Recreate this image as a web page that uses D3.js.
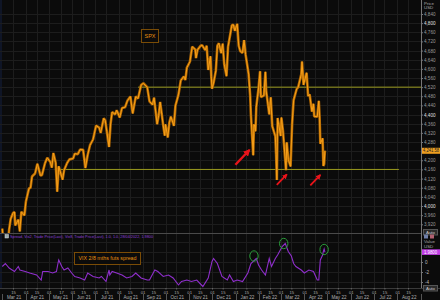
<!DOCTYPE html>
<html>
<head>
<meta charset="utf-8">
<script src="https://cdn.jsdelivr.net/npm/d3@7/dist/d3.min.js"></script>
<style>
  html, body { margin: 0; padding: 0; background: #0b0b0b; }
  svg { display: block; font-family: "Liberation Sans", Arial, sans-serif; }
</style>
</head>
<body>
<div id="chart"></div>
<script>
// SPX (daily-ish, incl. a few intraday lows)
const spx = [
  ["2021-03-01",3901],["2021-03-03",3820],["2021-03-04",3768],["2021-03-05",3842],["2021-03-08",3821],["2021-03-10",3898],
  ["2021-03-12",3943],["2021-03-15",3969],["2021-03-17",3974],["2021-03-18",3915],["2021-03-22",3940],["2021-03-24",3889],
  ["2021-03-26",3975],["2021-03-30",3959],["2021-04-01",4020],["2021-04-05",4077],["2021-04-07",4080],["2021-04-09",4129],
  ["2021-04-13",4142],["2021-04-16",4185],["2021-04-20",4134],["2021-04-22",4135],["2021-04-26",4187],["2021-04-29",4211],
  ["2021-05-03",4192],["2021-05-05",4168],["2021-05-07",4232],["2021-05-10",4189],["2021-05-12",4063],["2021-05-14",4174],
  ["2021-05-19",4115],["2021-05-21",4156],["2021-05-25",4188],["2021-05-28",4204],["2021-06-02",4208],["2021-06-04",4229],
  ["2021-06-08",4227],["2021-06-11",4247],["2021-06-15",4246],["2021-06-18",4166],["2021-06-21",4224],["2021-06-24",4266],
  ["2021-06-28",4291],["2021-07-02",4352],["2021-07-06",4343],["2021-07-08",4320],["2021-07-12",4384],["2021-07-14",4374],
  ["2021-07-16",4327],["2021-07-19",4258],["2021-07-21",4359],["2021-07-23",4411],["2021-07-27",4401],["2021-07-29",4419],
  ["2021-08-02",4387],["2021-08-05",4429],["2021-08-09",4432],["2021-08-12",4460],["2021-08-16",4479],["2021-08-19",4405],
  ["2021-08-23",4479],["2021-08-26",4470],["2021-08-30",4529],["2021-09-02",4537],["2021-09-07",4520],["2021-09-10",4458],
  ["2021-09-14",4443],["2021-09-16",4474],["2021-09-20",4358],["2021-09-22",4395],["2021-09-24",4455],["2021-09-28",4353],
  ["2021-09-30",4308],["2021-10-01",4357],["2021-10-04",4300],["2021-10-06",4364],["2021-10-08",4391],["2021-10-12",4351],
  ["2021-10-14",4438],["2021-10-18",4487],["2021-10-21",4549],["2021-10-25",4567],["2021-10-27",4551],["2021-10-29",4605],
  ["2021-11-02",4631],["2021-11-05",4697],["2021-11-09",4685],["2021-11-10",4647],["2021-11-12",4683],["2021-11-16",4701],
  ["2021-11-18",4704],["2021-11-22",4682],["2021-11-24",4701],["2021-11-26",4595],["2021-11-29",4655],["2021-11-30",4567],
  ["2021-12-01",4513],["2021-12-03",4538],["2021-12-06",4592],["2021-12-08",4701],["2021-12-10",4712],["2021-12-13",4669],
  ["2021-12-15",4710],["2021-12-17",4620],["2021-12-20",4568],["2021-12-22",4697],["2021-12-27",4791],["2021-12-29",4793],
  ["2021-12-31",4766],["2022-01-03",4797],["2022-01-05",4701],["2022-01-07",4677],["2022-01-10",4670],["2022-01-12",4726],
  ["2022-01-14",4663],["2022-01-18",4577],["2022-01-20",4483],["2022-01-21",4398],["2022-01-24",4222],["2022-01-25",4357],
  ["2022-01-26",4350],["2022-01-27",4327],["2022-01-28",4432],["2022-01-31",4516],["2022-02-02",4589],["2022-02-03",4477],
  ["2022-02-07",4483],["2022-02-09",4587],["2022-02-10",4504],["2022-02-14",4401],["2022-02-16",4475],["2022-02-18",4349],
  ["2022-02-22",4305],["2022-02-23",4226],["2022-02-24",4114],["2022-02-25",4385],["2022-03-01",4306],["2022-03-02",4387],
  ["2022-03-04",4329],["2022-03-07",4201],["2022-03-08",4157],["2022-03-09",4278],["2022-03-11",4204],["2022-03-14",4173],
  ["2022-03-16",4358],["2022-03-18",4463],["2022-03-22",4512],["2022-03-24",4520],["2022-03-28",4576],["2022-03-29",4632],
  ["2022-03-31",4530],["2022-04-04",4583],["2022-04-06",4481],["2022-04-08",4488],["2022-04-11",4413],["2022-04-13",4447],
  ["2022-04-14",4392],["2022-04-18",4391],["2022-04-20",4460],["2022-04-21",4394],["2022-04-22",4272],["2022-04-25",4296],
  ["2022-04-26",4175],["2022-04-27",4184],["2022-04-28",4242]
];

// VIX 2nd - 8th month futures spread
const spread = [
  ["2021-03-01",-0.9],["2021-03-05",-0.3],["2021-03-10",-1.2],["2021-03-17",-1.9],["2021-03-22",-0.9],["2021-03-24",-1.6],
  ["2021-03-31",-1.9],["2021-04-06",-2.2],["2021-04-15",-2.6],["2021-04-21",-3.6],["2021-04-23",-1.9],["2021-04-30",-1.9],
  ["2021-05-06",-2.2],["2021-05-11",-1.9],["2021-05-13",-0.3],["2021-05-14",0.4],["2021-05-18",-0.9],["2021-05-21",-1.6],
  ["2021-05-26",-1.2],["2021-05-31",-2.2],["2021-06-04",-2.9],["2021-06-11",-3.2],["2021-06-17",-3.6],["2021-06-21",-2.2],
  ["2021-06-28",-2.9],["2021-07-06",-3.2],["2021-07-09",-2.9],["2021-07-15",-3.9],["2021-07-19",-1.6],["2021-07-20",-2.6],
  ["2021-07-23",-1.9],["2021-07-29",-2.2],["2021-08-05",-2.6],["2021-08-11",-3.2],["2021-08-18",-2.9],["2021-08-23",-2.2],
  ["2021-08-30",-3.2],["2021-09-07",-3.6],["2021-09-10",-3.6],["2021-09-17",-1.6],["2021-09-21",-1.9],["2021-09-28",-2.9],
  ["2021-10-05",-2.6],["2021-10-11",-3.2],["2021-10-18",-4.6],["2021-10-22",-3.9],["2021-10-29",-3.6],["2021-11-04",-3.9],
  ["2021-11-11",-3.6],["2021-11-19",-4.9],["2021-11-26",-3.2],["2021-12-01",0.1],["2021-12-03",0.7],["2021-12-08",-0.3],
  ["2021-12-14",-2.9],["2021-12-21",-3.6],["2021-12-24",-2.6],["2021-12-29",-3.9],["2022-01-03",-3.6],["2022-01-10",-3.9],
  ["2022-01-17",-2.2],["2022-01-21",-0.3],["2022-01-26",0.4],["2022-01-28",0.7],["2022-01-31",-0.6],["2022-02-04",-1.6],
  ["2022-02-09",-2.6],["2022-02-14",0.7],["2022-02-17",-0.9],["2022-02-22",0.7],["2022-02-25",1.4],["2022-03-03",3.1],
  ["2022-03-07",3.7],["2022-03-11",2.1],["2022-03-15",1.2],["2022-03-18",-0.3],["2022-03-21",-0.9],["2022-03-28",-1.6],
  ["2022-04-01",-2.2],["2022-04-07",-1.6],["2022-04-13",-1.9],["2022-04-18",-3.6],["2022-04-20",-3.6],["2022-04-22",0.4],
  ["2022-04-25",1.4],["2022-04-26",2.1],["2022-04-27",2.6],["2022-04-28",1.98]
];

const priceTicks = [4840,4800,4760,4720,4680,4640,4600,4560,4520,4480,4440,4400,4360,4320,4280,4240,4200,4160,4120,4080,4040,4000,3960,3920];
const priceLabels = [4840,4800,4760,4720,4680,4640,4600,4560,4520,4480,4440,4400,4360,4320,4280,4200,4160,4120,4080,4040,4000,3960,3920];
const brightTicks = [4800,4400,4000];
const spreadTicks = [0,-2,-4];
const spreadGrid = [4,2,0,-2,-4];

const monthStarts = ["2021-03-01","2021-04-01","2021-05-01","2021-06-01","2021-07-01","2021-08-01","2021-09-01","2021-10-01","2021-11-01",
  "2021-12-01","2022-01-01","2022-02-01","2022-03-01","2022-04-01","2022-05-01","2022-06-01","2022-07-01","2022-08-01","2022-09-01"];
const monthLabels = ["Mar 21","Apr 21","May 21","Jun 21","Jul 21","Aug 21","Sep 21","Oct 21","Nov 21",
  "Dec 21","Jan 22","Feb 22","Mar 22","Apr 22","May 22","Jun 22","Jul 22","Aug 22"];
const dayTicks = ["2021-03-15","2021-04-01","2021-04-15","2021-05-01","2021-05-17","2021-06-01","2021-06-15","2021-07-01","2021-07-15",
  "2021-08-01","2021-08-15","2021-09-01","2021-09-15","2021-10-01","2021-10-15","2021-11-01","2021-11-15","2021-12-01","2021-12-15",
  "2022-01-01","2022-01-15","2022-02-01","2022-02-15","2022-03-01","2022-03-15","2022-04-01","2022-04-15","2022-05-01","2022-05-15",
  "2022-06-01","2022-06-15","2022-07-01","2022-07-15","2022-08-01","2022-08-15"];
const dayLabels = ["15","01","15","01","17","01","15","01","15","01","15","01","15","01","15","01","15","01","15",
  "01","15","01","15","01","15","01","15","01","15","01","15","01","15","01","15"];

// horizontal support / resistance levels: [start, end, price]
const levels = [["2021-08-26", "2022-09-01", 4520], ["2021-05-09", "2022-08-03", 4160]];
// red arrows: tip at date/price, length
const arrows = [["2022-01-19", 4245, 14], ["2022-03-09", 4138, 10], ["2022-04-22", 4136, 10]];
// green circles on the spread
const circles = [["2022-01-25", 1.2], ["2022-03-05", 3.7], ["2022-04-27", 2.5]];

const lastPrice = "4,241.58";
const lastSpread = "1.9800";
const legendText = "Spread, Vix2, Trade Price(Last), Vix8, Trade Price(Last),  1.0, 1.0, 28/04/2022, 1.9800";

const W = 440, H = 300;
const plotR = 421, topBottom = 233, lowTop = 239, lowBottom = 288;
const parse = d3.timeParse("%Y-%m-%d");

const svg = d3.select("#chart").append("svg").attr("width", W).attr("height", H);
svg.append("rect").attr("width", W).attr("height", H).attr("fill", "#0b0b0b");
svg.append("rect").attr("width", 2).attr("height", lowBottom).attr("fill", "#0f1526");

const x = d3.scaleTime().domain([parse("2021-02-26"), parse("2022-09-01")]).range([0, plotR]);
const yP = d3.scaleLinear().domain([3920, 4840]).range([224.3, 14]);
const yS = d3.scaleLinear().domain([-4, 0]).range([282, 262]);

const defs = svg.append("defs");
defs.append("clipPath").attr("id", "clipTop").append("rect").attr("x", 0).attr("y", 0).attr("width", plotR).attr("height", topBottom);
defs.append("clipPath").attr("id", "clipLow").append("rect").attr("x", 0).attr("y", lowTop).attr("width", plotR).attr("height", lowBottom - lowTop);

// grid
const grid = svg.append("g").attr("stroke", "#1d1d1d").attr("stroke-width", 1);
grid.selectAll(".vg").data(dayTicks).join("line")
  .attr("x1", d => Math.round(x(parse(d))) + 0.5).attr("x2", d => Math.round(x(parse(d))) + 0.5)
  .attr("y1", 0).attr("y2", lowBottom);
grid.selectAll(".hp").data(priceTicks).join("line")
  .attr("x1", 0).attr("x2", plotR).attr("y1", d => Math.round(yP(d)) + 0.5).attr("y2", d => Math.round(yP(d)) + 0.5);
grid.selectAll(".hs").data(spreadGrid).join("line")
  .attr("x1", 0).attr("x2", plotR).attr("y1", d => Math.round(yS(d)) + 0.5).attr("y2", d => Math.round(yS(d)) + 0.5);

// panel separators
svg.append("line").attr("x1", 0).attr("x2", plotR).attr("y1", topBottom + 0.5).attr("y2", topBottom + 0.5).attr("stroke", "#4a4a4a");
svg.append("line").attr("x1", 0).attr("x2", W).attr("y1", lowBottom + 0.5).attr("y2", lowBottom + 0.5).attr("stroke", "#3a3a3a");
svg.append("line").attr("x1", plotR + 0.5).attr("x2", plotR + 0.5).attr("y1", 0).attr("y2", lowBottom).attr("stroke", "#777");

// level lines
svg.append("g").selectAll("line").data(levels).join("line")
  .attr("x1", d => x(parse(d[0]))).attr("x2", d => x(parse(d[1])))
  .attr("y1", d => yP(d[2])).attr("y2", d => yP(d[2]))
  .attr("stroke", "#9a9a1e").attr("stroke-width", 1);

// SPX line
const lineP = d3.line().x(d => x(parse(d[0]))).y(d => yP(d[1]));
const gTop = svg.append("g").attr("clip-path", "url(#clipTop)");
gTop.append("path").datum(spx).attr("d", lineP).attr("fill", "none").attr("stroke", "#b06600").attr("stroke-width", 2.6).attr("stroke-linejoin", "bevel");
gTop.append("path").datum(spx).attr("d", lineP).attr("fill", "none").attr("stroke", "#f7a01a").attr("stroke-width", 1).attr("stroke-linejoin", "bevel");

// spread line
const lineS = d3.line().x(d => x(parse(d[0]))).y(d => yS(d[1]));
svg.append("g").attr("clip-path", "url(#clipLow)").append("path").datum(spread).attr("d", lineS)
  .attr("fill", "none").attr("stroke", "#8f2fcc").attr("stroke-width", 1.1);

// arrows
defs.append("marker").attr("id", "ah").attr("viewBox", "0 0 10 10").attr("refX", 8).attr("refY", 5)
  .attr("markerWidth", 3).attr("markerHeight", 3).attr("orient", "auto")
  .append("path").attr("d", "M0,0L10,5L0,10Z").attr("fill", "#e8141a");
svg.append("g").selectAll("line").data(arrows).join("line")
  .attr("x1", d => x(parse(d[0])) - d[2]).attr("y1", d => yP(d[1]) + d[2] * 1.05)
  .attr("x2", d => x(parse(d[0]))).attr("y2", d => yP(d[1]))
  .attr("stroke", "#e8141a").attr("stroke-width", d => d[2] > 12 ? 2.4 : 1.8).attr("marker-end", "url(#ah)");

// green circles
svg.append("g").selectAll("ellipse").data(circles).join("ellipse")
  .attr("cx", d => x(parse(d[0]))).attr("cy", d => yS(d[1])).attr("rx", 4.2).attr("ry", 5.2)
  .attr("fill", "none").attr("stroke", "#2a9d3a").attr("stroke-width", 1);

// labels boxes
function box(x0, y0, w, h, txt, fs, tl) {
  svg.append("rect").attr("x", x0 + 0.5).attr("y", y0 + 0.5).attr("width", w).attr("height", h)
    .attr("fill", "#0b0b0b").attr("stroke", "#7a4c06").attr("stroke-width", 1);
  svg.append("text").attr("x", x0 + w / 2 + 0.5).attr("y", y0 + h / 2 + fs * 0.36).attr("text-anchor", "middle")
    .attr("font-size", fs).attr("fill", "#e8910e").attr("textLength", tl).attr("lengthAdjust", "spacingAndGlyphs").text(txt);
}
box(141, 29, 17, 13, "SPX", 6, 11);
box(74, 252, 66, 12, "VIX 2/8 mths futs spread", 5.6, 58);

// price axis
const axP = svg.append("g").attr("transform", `translate(${plotR},0)`)
  .call(d3.axisRight(yP).tickValues(priceLabels).tickSize(2).tickFormat(d3.format(",")));
axP.select(".domain").remove();
axP.selectAll("line").attr("stroke", "#777");
axP.selectAll("text").attr("font-size", 4.6).attr("x", 3).attr("fill", d => brightTicks.includes(d) ? "#e0e0e0" : "#9a9a9a");
svg.append("text").attr("x", 424).attr("y", 4.5).attr("font-size", 4.4).attr("fill", "#aaa").text("Price");
svg.append("text").attr("x", 424).attr("y", 9).attr("font-size", 4.4).attr("fill", "#aaa").text("USD");
const lpY = yP(4241.58);
svg.append("rect").attr("x", plotR + 1).attr("y", lpY - 3).attr("width", W - plotR - 1).attr("height", 6).attr("fill", "#f0a020");
svg.append("text").attr("x", plotR + 2).attr("y", lpY + 1.7).attr("font-size", 4.6).attr("fill", "#222")
  .attr("textLength", 16).attr("lengthAdjust", "spacingAndGlyphs").text(lastPrice);

// spread axis
const axS = svg.append("g").attr("transform", `translate(${plotR},0)`)
  .call(d3.axisRight(yS).tickValues(spreadTicks).tickSize(2).tickFormat(d => d === 0 ? "0" : "-" + Math.abs(d)));
axS.select(".domain").remove();
axS.selectAll("line").attr("stroke", "#777");
axS.selectAll("text").attr("font-size", 4.6).attr("x", 4).attr("fill", "#bbb");
svg.append("text").attr("x", 424).attr("y", 243).attr("font-size", 4.4).attr("fill", "#aaa").text("Value");
svg.append("text").attr("x", 424).attr("y", 248).attr("font-size", 4.4).attr("fill", "#aaa").text("USD");
const lsY = yS(1.98);
svg.append("rect").attr("x", plotR + 1).attr("y", lsY - 2.8).attr("width", W - plotR - 1).attr("height", 5.6).attr("fill", "#c23ee6");
svg.append("text").attr("x", plotR + 3).attr("y", lsY + 1.7).attr("font-size", 4.6).attr("fill", "#fff")
  .attr("textLength", 13).attr("lengthAdjust", "spacingAndGlyphs").text(lastSpread);

// Auto buttons and icons
[229, 285].forEach(yy => {
  svg.append("rect").attr("x", 423.5).attr("y", yy + 0.5).attr("width", 14).attr("height", 5.5).attr("fill", "#2a2a2a").attr("stroke", "#555");
  svg.append("text").attr("x", 430.5).attr("y", yy + 4.8).attr("text-anchor", "middle").attr("font-size", 4.4).attr("fill", "#ccc").text("Auto");
});
svg.append("rect").attr("x", 424).attr("y", 234.5).attr("width", 4).attr("height", 4).attr("fill", "#6f7fa8");
svg.append("rect").attr("x", 430).attr("y", 234.5).attr("width", 4).attr("height", 4).attr("fill", "#b06070");

// legend row
svg.append("rect").attr("x", 5).attr("y", 234.5).attr("width", 3.5).attr("height", 3.5).attr("fill", "#9aa").attr("stroke", "#ddd").attr("stroke-width", 0.5);
svg.append("text").attr("x", 10).attr("y", 238.3).attr("font-size", 4.2).attr("fill", "#8d3fd8")
  .attr("textLength", 143).attr("lengthAdjust", "spacingAndGlyphs").text(legendText);

// time axis
const axX = svg.append("g").attr("transform", `translate(0,${lowBottom})`)
  .call(d3.axisBottom(x).tickValues(dayTicks.map(parse)).tickSize(1.5).tickFormat((d, i) => dayLabels[i]));
axX.select(".domain").remove();
axX.selectAll("line").attr("stroke", "#666");
axX.selectAll("text").attr("font-size", 4.2).attr("fill", "#aaa").attr("y", 3.5);
svg.append("g").selectAll("line").data(monthStarts).join("line")
  .attr("x1", d => Math.round(x(parse(d))) + 0.5).attr("x2", d => Math.round(x(parse(d))) + 0.5)
  .attr("y1", 294).attr("y2", H).attr("stroke", "#555");
svg.append("g").selectAll("text").data(monthLabels).join("text")
  .attr("x", (d, i) => (x(parse(monthStarts[i])) + x(parse(monthStarts[i + 1]))) / 2)
  .attr("y", 299).attr("text-anchor", "middle").attr("font-size", 4.6).attr("fill", "#b0b0b0").text(d => d);
</script>
</body>
</html>
